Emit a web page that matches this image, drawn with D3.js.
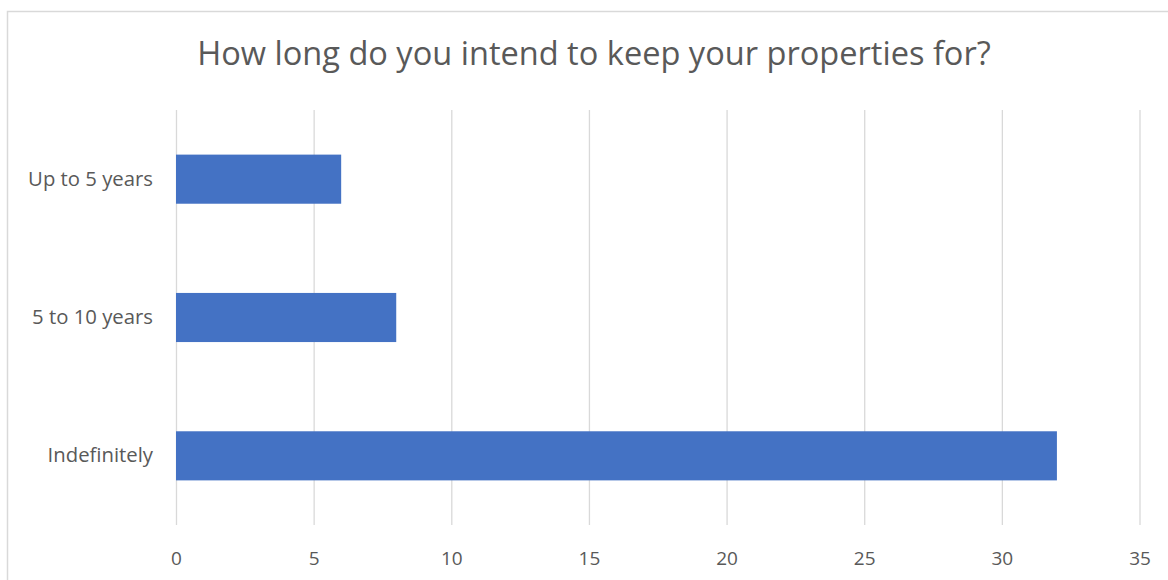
<!DOCTYPE html>
<html>
<head>
<meta charset="utf-8">
<script src="https://cdn.jsdelivr.net/npm/d3@7"></script>
<style>
  html, body { margin: 0; padding: 0; background: #fff; }
  svg { display: block; }
</style>
</head>
<body>
<svg id="chart" width="1168" height="580"></svg>
<script>
// Survey answers: how long owners plan to hold their properties
const categories = ["Up to 5 years", "5 to 10 years", "Indefinitely"];
const counts = [6, 8, 32];
const xTicks = [0, 5, 10, 15, 20, 25, 30, 35];
const titleText = "How long do you intend to keep your properties for?";

const svg = d3.select("#chart");
const font = "'Open Sans', 'Noto Sans', sans-serif";

// Chart frame
svg.append("rect")
  .attr("x", 7.5).attr("y", 11.5)
  .attr("width", 1200).attr("height", 600)
  .attr("fill", "#fff")
  .attr("stroke", "#d9d9d9").attr("stroke-width", 1.5);

const plot = { left: 176, right: 1139.5, top: 110, bottom: 525 };

const x = d3.scaleLinear().domain([0, 35]).range([plot.left, plot.right]);
const y = d3.scaleBand().domain(categories).range([plot.top, plot.bottom])
  .paddingInner(0.645).paddingOuter(0.3225);

// Title, sized to span its measured width
const title = svg.append("text")
  .attr("x", 594).attr("y", 65)
  .attr("text-anchor", "middle")
  .attr("font-family", font)
  .attr("font-size", 28)
  .attr("fill", "#595959")
  .text(titleText);
const tw = title.node().getComputedTextLength();
title.attr("font-size", 28 * 794 / tw);

// Vertical gridlines and value ticks
const xAxis = d3.axisBottom(x).tickValues(xTicks).tickSize(-(plot.bottom - plot.top)).tickPadding(27);
const gx = svg.append("g")
  .attr("transform", `translate(0,${plot.bottom})`)
  .call(xAxis);
gx.select(".domain").remove();
gx.selectAll(".tick line").attr("stroke", "#d9d9d9").attr("stroke-width", 1.3);
gx.selectAll(".tick text")
  .attr("font-family", font)
  .attr("font-size", 19)
  .attr("fill", "#595959");

// Bars
svg.append("g").selectAll("rect")
  .data(categories.map((c, i) => ({ c, v: counts[i] })))
  .join("rect")
  .attr("x", x(0))
  .attr("y", d => y(d.c))
  .attr("width", d => x(d.v) - x(0))
  .attr("height", y.bandwidth())
  .attr("fill", "#4472c4");

// Category labels
const yAxis = d3.axisLeft(y).tickSize(0).tickPadding(23);
const gy = svg.append("g")
  .attr("transform", `translate(${plot.left},0)`)
  .call(yAxis);
gy.select(".domain").remove();
const labels = gy.selectAll(".tick text")
  .attr("font-family", font)
  .attr("font-size", 17)
  .attr("fill", "#595959");
const lw = labels.nodes()[0].getComputedTextLength();
labels.attr("font-size", 17 * 125 / lw);
</script>
</body>
</html>
